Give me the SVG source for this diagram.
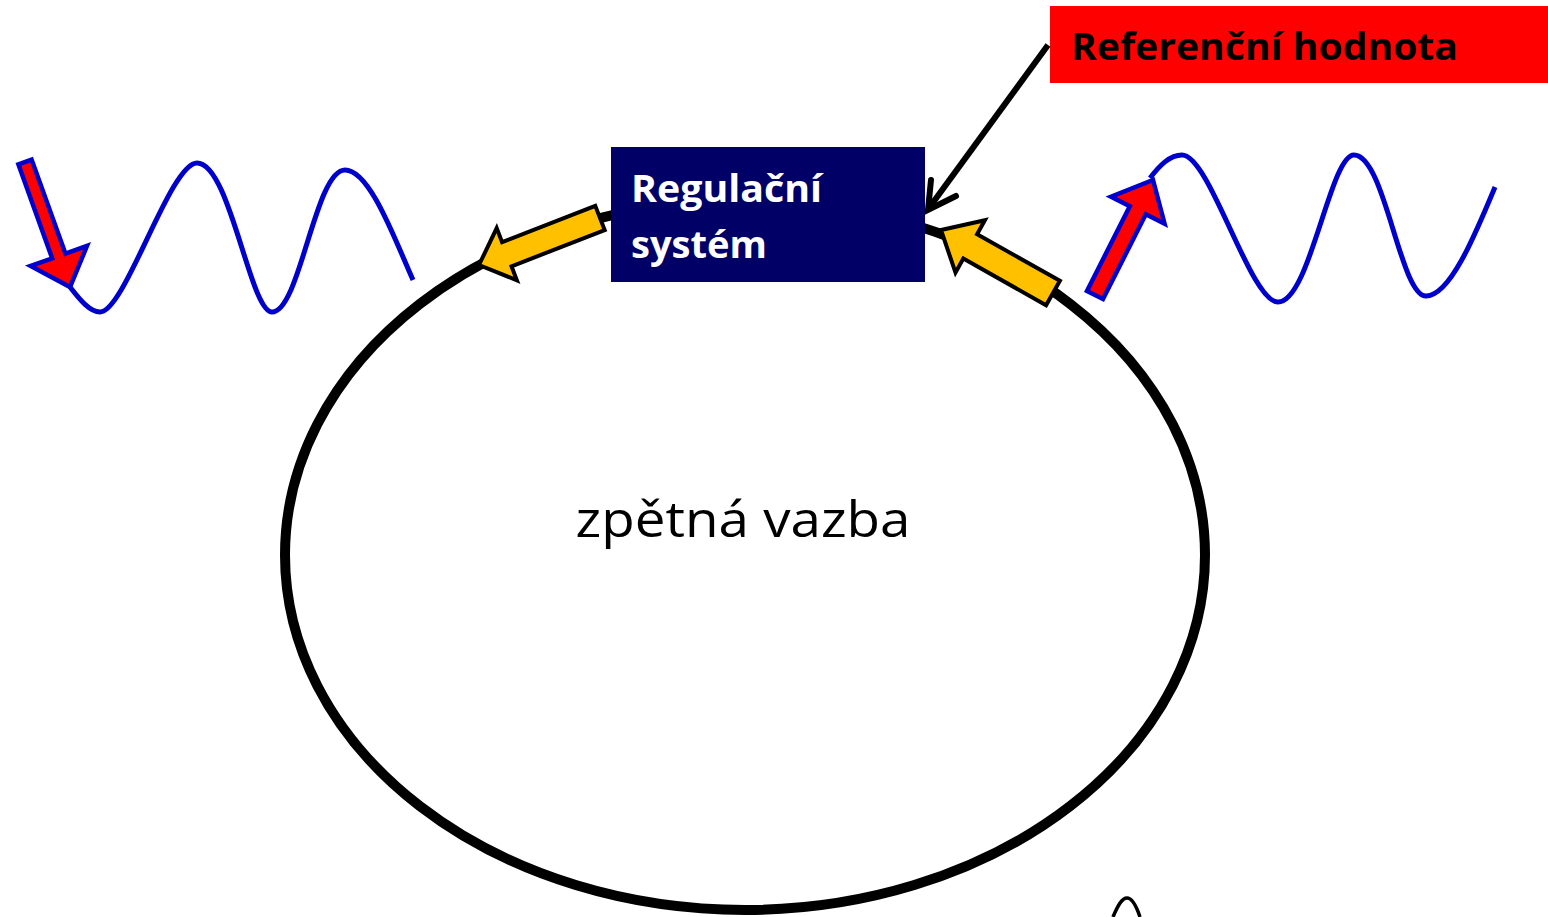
<svg xmlns="http://www.w3.org/2000/svg" width="1548" height="917" viewBox="0 0 1548 917">
<style>
.wave{fill:none;stroke:#0000CC;stroke-width:5;}
.red{fill:#FF0000;stroke:#0000CC;stroke-width:4.5;stroke-linejoin:miter;}
.yel{fill:#FFC000;stroke:#000;stroke-width:4;stroke-linejoin:miter;}
.lbl{font-family:"Open Sans","Liberation Sans",sans-serif;font-weight:bold;}
</style>
<rect width="1548" height="917" fill="#fff"/>
<g id="feedback-loop">
<ellipse cx="745" cy="555" rx="460" ry="355" fill="none" stroke="#000" stroke-width="10"/>
<text x="743" y="537" text-anchor="middle" font-family="'Open Sans','Liberation Sans',sans-serif" font-size="50" textLength="335" lengthAdjust="spacingAndGlyphs">zpětná vazba</text>
</g>
<g id="regulacni-system">
<rect x="611" y="147" width="314" height="135" fill="#000066"/>
<text class="lbl" x="631" y="202" font-size="38" fill="#fff" textLength="191" lengthAdjust="spacingAndGlyphs">Regulační</text>
<text class="lbl" x="631" y="258" font-size="38" fill="#fff" textLength="136" lengthAdjust="spacingAndGlyphs">systém</text>
</g>
<g id="referencni-hodnota">
<rect x="1050" y="6" width="498" height="77" fill="#FF0000"/>
<text class="lbl" x="1071" y="60" font-size="38" fill="#000" textLength="387" lengthAdjust="spacingAndGlyphs">Referenční hodnota</text>
</g>
<g id="left-wave">
<path class="wave" d="M70,287 C80,300 90,312 100,312 C125,312 170,163 197,163 C230,163 250,312 272,312 C300,312 315,170 345,170 C370,170 395,240 413,280"/>
<polygon class="red" points="18.4,164.4 31.6,159.6 65.4,253.6 87,245.9 70,287 30.6,266 52.2,258.4"/>
</g>
<g id="right-wave">
<path class="wave" d="M1150,178 C1160,165 1170,155 1182,155 C1210,155 1250,302 1278,302 C1310,302 1330,155 1354,155 C1385,155 1400,296 1426,296 C1450,296 1475,235 1495,187"/>
<polygon class="red" points="1087,291 1103,299 1145.8,214.3 1164.6,223.7 1153,180 1111,196.7 1129.8,206.2"/>
</g>
<g id="bottom-fragment">
<path d="M1113,917 C1118,905 1122,898 1127,898 C1132,898 1136,905 1140,917" fill="none" stroke="#000" stroke-width="3.5"/>
</g>
<g id="connectors">
<polygon class="yel" points="595.3,205.9 604.7,230.1 511.5,266.3 516.9,280.3 479,265 496.7,228.1 502.1,242.1"/>
<polygon class="yel" points="1059.9,280.8 1046.1,305.2 963.3,258.6 955.5,272.6 941,230 984.9,220.2 977.1,234.2"/>
<line x1="1048" y1="45" x2="929" y2="208" stroke="#000" stroke-width="6"/>
<polyline points="931,180 928,210 956,196" fill="none" stroke="#000" stroke-width="6" stroke-linecap="round" stroke-linejoin="miter"/>
</g>
</svg>
